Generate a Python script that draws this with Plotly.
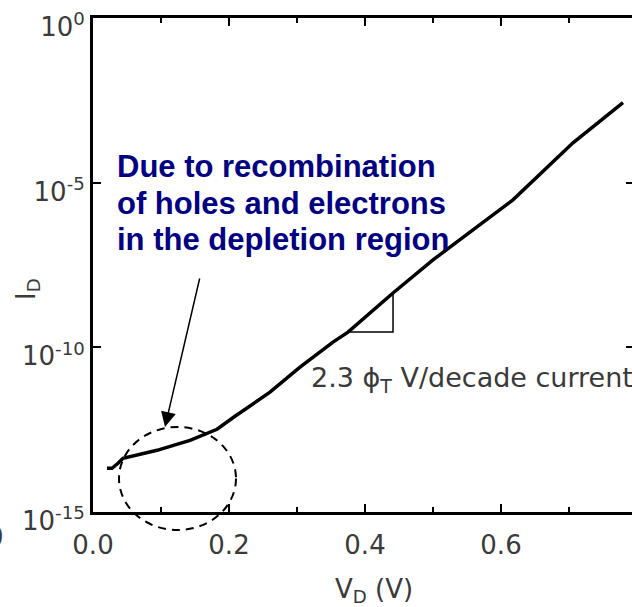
import plotly.graph_objects as go

# ---- data ----
vd = [0.0206, 0.0279, 0.0368, 0.0441, 0.0941, 0.1426, 0.1824, 0.2088, 0.2603,
      0.3044, 0.3529, 0.3750, 0.4412, 0.5000, 0.5294, 0.6176, 0.7059, 0.7794]
id_ = [2.11e-14, 2.11e-14, 3.0e-14, 4.26e-14, 7.46e-14, 1.50e-13, 3.25e-13, 8.07e-13,
       4.34e-12, 2.50e-11, 1.44e-10, 2.90e-10, 4.46e-9, 4.50e-8, 1.29e-7, 3.01e-6,
       1.63e-4, 2.69e-3]
tri_x = [0.375, 0.4412, 0.4412, 0.375]
tri_y = [2.90e-10, 4.46e-9, 2.90e-10, 2.90e-10]
x_tickvals = [0.0, 0.2, 0.4, 0.6]
x_ticktext = ["0.0", "0.2", "0.4", "0.6"]
y_tickvals = [1e0, 1e-5, 1e-10, 1e-15]
y_ticktext = ["10<sup>0</sup>", "10<sup>-5</sup>", "10<sup>-10</sup>", "10<sup>-15</sup>"]
note_lines = ["Due to recombination", "of holes and electrons", "in the depletion region"]

W, H = 632, 607
ML, MR, MT, MB = 93, 0, 18, 95
PW, PH = W - ML - MR, H - MT - MB


def xp(px):
    return (px - ML) / PW


def yp(py):
    return (MT + PH - py) / PH


GRAY = "#3a3a3a"
FONT = "DejaVu Sans, sans-serif"
FS = 26

fig = go.Figure()
fig.add_trace(go.Scatter(x=vd, y=id_, mode="lines",
                         line=dict(color="black", width=3.5), showlegend=False,
                         hoverinfo="skip"))
fig.add_trace(go.Scatter(x=tri_x, y=tri_y, mode="lines", yaxis="y2",
                         line=dict(color="black", width=1.5), showlegend=False,
                         hoverinfo="skip"))

fig.update_layout(
    width=W, height=H,
    margin=dict(l=ML, r=MR, t=MT, b=MB, pad=0),
    paper_bgcolor="white", plot_bgcolor="white",
    font=dict(family=FONT, size=FS, color=GRAY),
    xaxis=dict(range=[0, PW / 680.0], tickvals=x_tickvals, ticktext=x_ticktext,
               ticks="inside", ticklen=8, tickwidth=2, tickcolor="black",
               showline=True, linewidth=3, linecolor="black", mirror="ticks",
               showgrid=False, zeroline=False, ticklabelstandoff=8,
               minor=dict(tick0=0, dtick=0.1, ticks="inside", ticklen=5,
                          tickwidth=2, tickcolor="black", showgrid=False),
               tickfont=dict(family=FONT, size=FS, color=GRAY)),
    yaxis=dict(type="log", range=[-15.001, 0.001], tickvals=y_tickvals, ticktext=y_ticktext,
               ticks="inside", ticklen=8, tickwidth=2, tickcolor="black",
               showline=True, linewidth=3, linecolor="black", mirror=False,
               showgrid=False, zeroline=False, ticklabelshift=9,
               tickfont=dict(family=FONT, size=FS, color=GRAY)),
    yaxis2=dict(type="log", range=[-15.001, 0.001], overlaying="y", side="right",
                tickvals=y_tickvals, showticklabels=False,
                ticks="inside", ticklen=6, tickwidth=2, tickcolor="black",
                showline=False, showgrid=False, zeroline=False),
)

# axis titles
fig.add_annotation(text="V<sub>D</sub> (V)", xref="paper", yref="paper",
                   x=xp(374), y=yp(590), xanchor="center", yanchor="middle",
                   showarrow=False, font=dict(family=FONT, size=FS, color=GRAY))
fig.add_annotation(text="I<sub>D</sub>", xref="paper", yref="paper",
                   x=xp(27), y=yp(289), xanchor="center", yanchor="middle",
                   textangle=-90, showarrow=False,
                   font=dict(family=FONT, size=FS, color=GRAY))
# fragment at far left
fig.add_annotation(text="0", xref="paper", yref="paper",
                   x=xp(6), y=yp(537), xanchor="right", yanchor="middle",
                   showarrow=False, font=dict(family=FONT, size=FS, color=GRAY))

# slope label
fig.add_annotation(text="2.3 ϕ<sub>T</sub> V/decade current", xref="paper", yref="paper",
                   x=xp(309), y=yp(380), xanchor="left", yanchor="middle",
                   showarrow=False, font=dict(family=FONT, size=27, color=GRAY))

# explanation text (one annotation per line for the tight line spacing)
for i, line in enumerate(note_lines):
    fig.add_annotation(text=line, xref="paper", yref="paper",
                       x=xp(115), y=yp(147 + 36.5 * i),
                       xanchor="left", yanchor="top", align="left", showarrow=False,
                       font=dict(family="Arial, Liberation Sans, sans-serif", size=31,
                                 color="#000080", weight="bold"))

# arrow
fig.add_annotation(text="", xref="paper", yref="paper", x=xp(165), y=yp(427),
                   ax=35, ay=-150, axref="pixel", ayref="pixel",
                   showarrow=True, arrowhead=2, arrowsize=2, arrowwidth=1.5,
                   arrowcolor="black", standoff=0)

# dashed ellipse
fig.add_shape(type="circle", xref="paper", yref="paper",
              x0=xp(119), x1=xp(236), y0=yp(530), y1=yp(427),
              line=dict(color="black", width=2, dash="8px,6px"))

fig.write_html("out.html")
